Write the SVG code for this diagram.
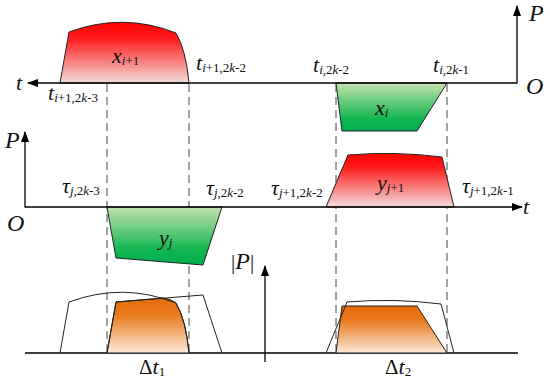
<svg xmlns="http://www.w3.org/2000/svg" width="550" height="383" viewBox="0 0 550 383">
<defs>
<linearGradient id="gRed" x1="0" y1="0" x2="0" y2="1">
<stop offset="0" stop-color="#ff0000"/>
<stop offset="0.25" stop-color="#ff1a1a"/>
<stop offset="1" stop-color="#f2dcdb"/>
</linearGradient>
<linearGradient id="gGreen" x1="0" y1="0" x2="0" y2="1">
<stop offset="0" stop-color="#c4e2ad"/>
<stop offset="0.75" stop-color="#10b550"/>
<stop offset="1" stop-color="#00b050"/>
</linearGradient>
<linearGradient id="gOrange" x1="0" y1="0" x2="0" y2="1">
<stop offset="0" stop-color="#e46c0a"/>
<stop offset="0.3" stop-color="#e8791c"/>
<stop offset="1" stop-color="#fde9d9"/>
</linearGradient>
<marker id="arr" markerUnits="userSpaceOnUse" markerWidth="11" markerHeight="8" refX="10" refY="4" orient="auto">
<path d="M0,0 L11,4 L0,8 Z" fill="#000"/>
</marker>
</defs>
<style>
.ax{stroke:#000;stroke-width:1.3;fill:none}
.dash{stroke:#444;stroke-width:1;stroke-dasharray:8 5;fill:none}
.sh{stroke:#222;stroke-width:1}
.ol{fill:none;stroke:#222;stroke-width:1}
.lbl text{font-family:'Liberation Serif','DejaVu Serif',serif}
.v{font-style:italic;font-size:22px}
.big{font-style:italic;font-size:24px}
.s{font-size:13px}
.i{font-style:italic}
.u{font-style:normal;font-size:21px}
</style>
<rect width="550" height="383" fill="#fff"/>

<g id="connectors">
<line class="dash" x1="107" y1="84" x2="107" y2="353"/>
<line class="dash" x1="189" y1="84" x2="189" y2="353"/>
<line class="dash" x1="336" y1="84" x2="336" y2="353"/>
<line class="dash" x1="447" y1="84" x2="447" y2="353"/>
</g>

<g id="shape-x-i1">
<path class="sh" fill="url(#gRed)" d="M60,83 L69,32 Q123,12 176,33 Q186,50 189,83 Z"/>
</g>
<g id="shape-x-i">
<path class="sh" fill="url(#gGreen)" d="M336,83 L447,83 L417,131 L342,131 Z"/>
</g>
<g id="shape-y-j">
<path class="sh" fill="url(#gGreen)" d="M107,207 L222,207 L203,265 L116,258 Z"/>
</g>
<g id="shape-y-j1">
<path class="sh" fill="url(#gRed)" d="M326,207 L348,155 Q395,151 442,157 L454,207 Z"/>
</g>

<g id="axes">
<line class="ax" x1="517" y1="83" x2="28" y2="83" marker-end="url(#arr)"/>
<line class="ax" x1="517" y1="83.6" x2="517" y2="6" marker-end="url(#arr)"/>
<line class="ax" x1="25" y1="207.6" x2="25" y2="132" marker-end="url(#arr)"/>
<line class="ax" x1="25" y1="207" x2="522" y2="207" marker-end="url(#arr)"/>
<line class="ax" x1="25" y1="353" x2="518" y2="353"/>
<line class="ax" x1="265" y1="362" x2="265" y2="266" marker-end="url(#arr)"/>
</g>

<g id="overlap-1">
<path class="sh" fill="url(#gOrange)" d="M107,353 L116,302 L163,298 Q171,299 176,303 Q186,320 189,353 Z"/>
<path class="ol" d="M60,353 L69,302 Q123,282 176,303 Q186,320 189,353"/>
<path class="ol" d="M107,353 L116,302 L203,295 L222,353"/>
</g>
<g id="overlap-2">
<path class="sh" fill="url(#gOrange)" d="M336,353 L342,306 L417,306 L447,353 Z"/>
<path class="ol" d="M326,353 L347,302 Q394,298 441,304 L454,353"/>
</g>

<g id="labels" class="lbl" fill="#111">
<text x="529" y="21" class="big">P</text>
<text x="526" y="94" class="big">O</text>
<text x="16" y="90" class="v">t</text>
<text x="5" y="148" class="big">P</text>
<text x="7" y="231" class="big">O</text>
<text x="523" y="214" class="v">t</text>

<text x="112" y="63"><tspan class="v">x</tspan><tspan class="s" dy="2"><tspan class="i">i</tspan>+1</tspan></text>
<text x="375" y="115"><tspan class="v">x</tspan><tspan class="s" dy="2"><tspan class="i">i</tspan></tspan></text>
<text x="159" y="245"><tspan class="v">y</tspan><tspan class="s" dy="2"><tspan class="i">j</tspan></tspan></text>
<text x="377" y="190"><tspan class="v">y</tspan><tspan class="s" dy="2"><tspan class="i">j</tspan>+1</tspan></text>

<text x="48" y="100"><tspan class="v">t</tspan><tspan class="s" dy="2"><tspan class="i">i</tspan>+1,2<tspan class="i">k</tspan>-3</tspan></text>
<text x="196" y="70"><tspan class="v">t</tspan><tspan class="s" dy="2"><tspan class="i">i</tspan>+1,2<tspan class="i">k</tspan>-2</tspan></text>
<text x="313" y="72"><tspan class="v">t</tspan><tspan class="s" dy="2"><tspan class="i">i</tspan>,2<tspan class="i">k</tspan>-2</tspan></text>
<text x="433" y="72"><tspan class="v">t</tspan><tspan class="s" dy="2"><tspan class="i">i</tspan>,2<tspan class="i">k</tspan>-1</tspan></text>

<text x="62" y="193"><tspan class="v">τ</tspan><tspan class="s" dy="2"><tspan class="i">j</tspan>,2<tspan class="i">k</tspan>-3</tspan></text>
<text x="206" y="195"><tspan class="v">τ</tspan><tspan class="s" dy="2"><tspan class="i">j</tspan>,2<tspan class="i">k</tspan>-2</tspan></text>
<text x="271" y="195"><tspan class="v">τ</tspan><tspan class="s" dy="2"><tspan class="i">j</tspan>+1,2<tspan class="i">k</tspan>-2</tspan></text>
<text x="462" y="193"><tspan class="v">τ</tspan><tspan class="s" dy="2"><tspan class="i">j</tspan>+1,2<tspan class="i">k</tspan>-1</tspan></text>

<text x="231" y="269"><tspan class="u">|</tspan><tspan class="big">P</tspan><tspan class="u">|</tspan></text>
<text x="139" y="374"><tspan class="u">Δ</tspan><tspan class="v">t</tspan><tspan class="s" dy="2">1</tspan></text>
<text x="385" y="374"><tspan class="u">Δ</tspan><tspan class="v">t</tspan><tspan class="s" dy="2">2</tspan></text>
</g>
</svg>
